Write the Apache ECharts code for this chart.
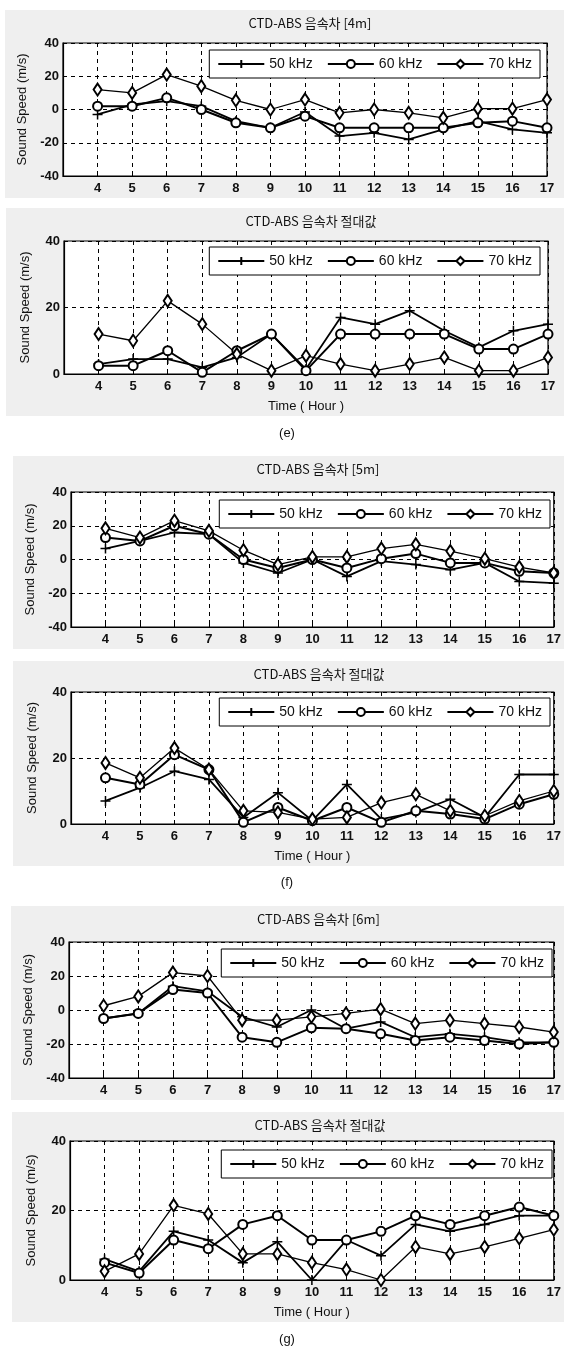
<!DOCTYPE html>
<html>
<head>
<meta charset="utf-8">
<script src="https://cdn.jsdelivr.net/npm/echarts@6/dist/echarts.min.js"></script>
<style>
html,body{margin:0;padding:0;background:#fff;}
#chart{width:564px;height:1353px;}
</style>
</head>
<body>
<div id="chart"></div>
<script>
// ---- data ----
const hours = [4,5,6,7,8,9,10,11,12,13,14,15,16,17];
const seriesNames = ['50 kHz','60 kHz','70 kHz'];
const diffTicks = [-40,-20,0,20,40];
const absTicks = [0,20,40];

// (e) 4 m
const e_diff_50 = [-3,3,5,2,-7,-11,-1.5,-16,-14,-18,-12,-7,-12,-14];
const e_diff_60 = [2,2,7,0,-8,-11,-4,-11,-11,-11,-11,-8,-7,-11];
const e_diff_70 = [12,10,21,14,5.5,0,6,-2,0,-2,-5,0.5,0.5,6];
const e_abs_50 = [3,4.5,4.5,2,5,12,1.5,17,15,19,13,8,13,15];
const e_abs_60 = [2.5,2.5,7,0.5,7,12,1,12,12,12,12,7.5,7.5,12];
const e_abs_70 = [12,10,22,15,6,1,5.5,3,1,3,5,1,1,5];

// (f) 5 m
const f_diff_50 = [6.5,11,16,15,-2,-8,0,-10,-1,-3,-6,-2,-13,-14];
const f_diff_60 = [13,11,20,15,0,-5,0,-5,0.5,3.5,-2,-2,-7,-8];
const f_diff_70 = [18.5,13,23,17,5.5,-3,1.5,1.5,6.5,9,5,0.5,-4.5,-8];
const f_abs_50 = [7,11,16,13.5,2,9.5,1,12,1.5,3.5,7.5,2,15,15];
const f_abs_60 = [14,12,21,16.5,0.5,5,1,5,0.5,4,3,1.5,6,9];
const f_abs_70 = [18.5,14,23,16.5,4,3.5,1.5,2,6.5,9,4,2.5,7,10];

// (g) 6 m
const g_diff_50 = [-5,-2,14,11,-4,-10,0,-11,-7,-16,-14,-16,-19,-19];
const g_diff_60 = [-5,-2,12,10,-16,-19,-10.5,-11,-14,-18,-16,-18,-20,-19];
const g_diff_70 = [2.5,8,22,20,-6,-6,-4,-2,0.5,-8,-6,-8,-10,-13];
const g_abs_50 = [6,2.5,14,11.5,5,11,0,11.5,7,16,14,16,18.5,18.5];
const g_abs_60 = [5,2,11.5,9,16,18.5,11.5,11.5,14,18.5,16,18.5,21,18.5];
const g_abs_70 = [2.5,7.5,21.5,19,7.5,7.5,5,3,0,9.5,7.5,9.5,12,14.5];

const titles = ['CTD-ABS 음속차 [4m]','CTD-ABS 음속차 절대값','CTD-ABS 음속차 [5m]','CTD-ABS 음속차 절대값','CTD-ABS 음속차 [6m]','CTD-ABS 음속차 절대값'];
const figLabels = ['(e)','(f)','(g)'];
const yName = 'Sound Speed (m/s)';
const xName = 'Time ( Hour )';

// ---- layout (pixels) ----
const panels = [
  {data:[e_diff_50,e_diff_60,e_diff_70], ticks:diffTicks, l:63, r:547, t:43, b:176, titleY:12, legR:24, legT:50, xname:false},
  {data:[e_abs_50,e_abs_60,e_abs_70],   ticks:absTicks,  l:64, r:548, t:241, b:374, titleY:210, legR:24, legT:247, xname:true},
  {data:[f_diff_50,f_diff_60,f_diff_70], ticks:diffTicks, l:71, r:555, t:492, b:627, titleY:458, legR:14, legT:500, xname:false},
  {data:[f_abs_50,f_abs_60,f_abs_70],   ticks:absTicks,  l:71, r:557, t:692, b:824, titleY:663, legR:14, legT:698, xname:true},
  {data:[g_diff_50,g_diff_60,g_diff_70], ticks:diffTicks, l:69, r:558, t:942, b:1078, titleY:908, legR:12, legT:949, xname:false},
  {data:[g_abs_50,g_abs_60,g_abs_70],   ticks:absTicks,  l:70, r:560, t:1141, b:1280, titleY:1114, legR:12, legT:1150, xname:true}
];
const figLabelY = [422, 871, 1328];

const W = 564;
const plusPath = 'path://M5 0 L5 10 M0 5 L10 5';
const symStyles = [
  {symbol: plusPath, symbolSize: 10, lw: 1.8},
  {symbol: 'emptyCircle', symbolSize: 9, lw: 2},
  {symbol: 'emptyDiamond', symbolSize: [8,12], lw: 1.3}
];

const grid = [], xAxis = [], yAxis = [], series = [], title = [], legend = [], graphic = [];
const tickFont = {fontFamily:'Liberation Sans', fontSize:13, fontWeight:'bold', color:'#111'};

panels.forEach((p, i) => {
  graphic.push({type:'rect', left:p.l - 58, top:p.titleY - 2, z:-10,
    shape:{width: W - (p.l - 58), height: (p.b + (p.xname ? 42 : 22)) - (p.titleY - 2)},
    style:{fill:'#efefef'}});
  grid.push({left:p.l, right: W - p.r, top:p.t, height: p.b - p.t, show:true,
    backgroundColor:'#fff', borderColor:'#000', borderWidth:1.2});
  xAxis.push({type:'value', gridIndex:i, min: hours[0]-1, max: hours[hours.length-1], interval:1,
    axisLine:{show:true, onZero:false, lineStyle:{color:'#000', width:1.2}},
    axisTick:{show:true, inside:true, length:4, lineStyle:{color:'#000'}},
    axisLabel:Object.assign({margin:6, formatter: v => hours.indexOf(v) >= 0 ? String(v) : ''}, tickFont),
    splitLine:{show:true, lineStyle:{color:'#000', type:[4,4], width:1}},
    name: p.xname ? xName : '', nameLocation:'middle', nameGap:26,
    nameTextStyle:{fontFamily:'Liberation Sans', fontSize:13, color:'#111'}
  });
  yAxis.push({type:'value', gridIndex:i, min:p.ticks[0], max:p.ticks[p.ticks.length-1], interval:20,
    axisLine:{show:true, onZero:false, lineStyle:{color:'#000', width:1.2}},
    axisTick:{show:true, inside:true, length:4, lineStyle:{color:'#000'}},
    axisLabel:Object.assign({margin:4}, tickFont),
    splitLine:{show:true, lineStyle:{color:'#000', type:[4,4], width:1}},
    name: yName, nameLocation:'middle', nameGap:32, nameRotate:90,
    nameTextStyle:{fontFamily:'Liberation Sans', fontSize:13, color:'#111'}
  });
  title.push({text:titles[i], left: (p.l + p.r)/2, top:p.titleY, textAlign:'center',
    textStyle:{fontFamily:'Noto Sans CJK KR', fontSize:13, fontWeight:'normal', color:'#111'}});
  legend.push({right:p.legR, top:p.legT, orient:'horizontal', data:seriesNames.map(n=>n+'#'+i),
    formatter: n => n.split('#')[0],
    backgroundColor:'#fff', borderColor:'#000', borderWidth:1, borderRadius:0,
    padding:[7,8,7,8], itemGap:14, itemWidth:46, itemHeight:10, selectedMode:false,
    textStyle:{fontFamily:'Liberation Sans', fontSize:14, color:'#111'}});
  p.data.forEach((vals, k) => {
    const s = symStyles[k];
    series.push({type:'line', name: seriesNames[k]+'#'+i, xAxisIndex:i, yAxisIndex:i,
      data: hours.map((h, j) => [h, vals[j]]),
      symbol: s.symbol, symbolSize: s.symbolSize, showAllSymbol:true,
      lineStyle:{color:'#000', width:s.lw},
      itemStyle:{color:'#000', borderColor:'#000', borderWidth:1.5},
      emphasis:{disabled:true}, animation:false, z:3});
  });
});

figLabels.forEach((t, i) => {
  title.push({text:t, left:282, top:figLabelY[i], textAlign:'center',
    textStyle:{fontFamily:'Liberation Sans', fontSize:13, fontWeight:'normal', color:'#111'}});
});

const chart = echarts.init(document.getElementById('chart'), null, {renderer:'canvas'});
chart.setOption({backgroundColor:'#fff', animation:false, grid, xAxis, yAxis, series, title, legend, graphic});
</script>
</body>
</html>
